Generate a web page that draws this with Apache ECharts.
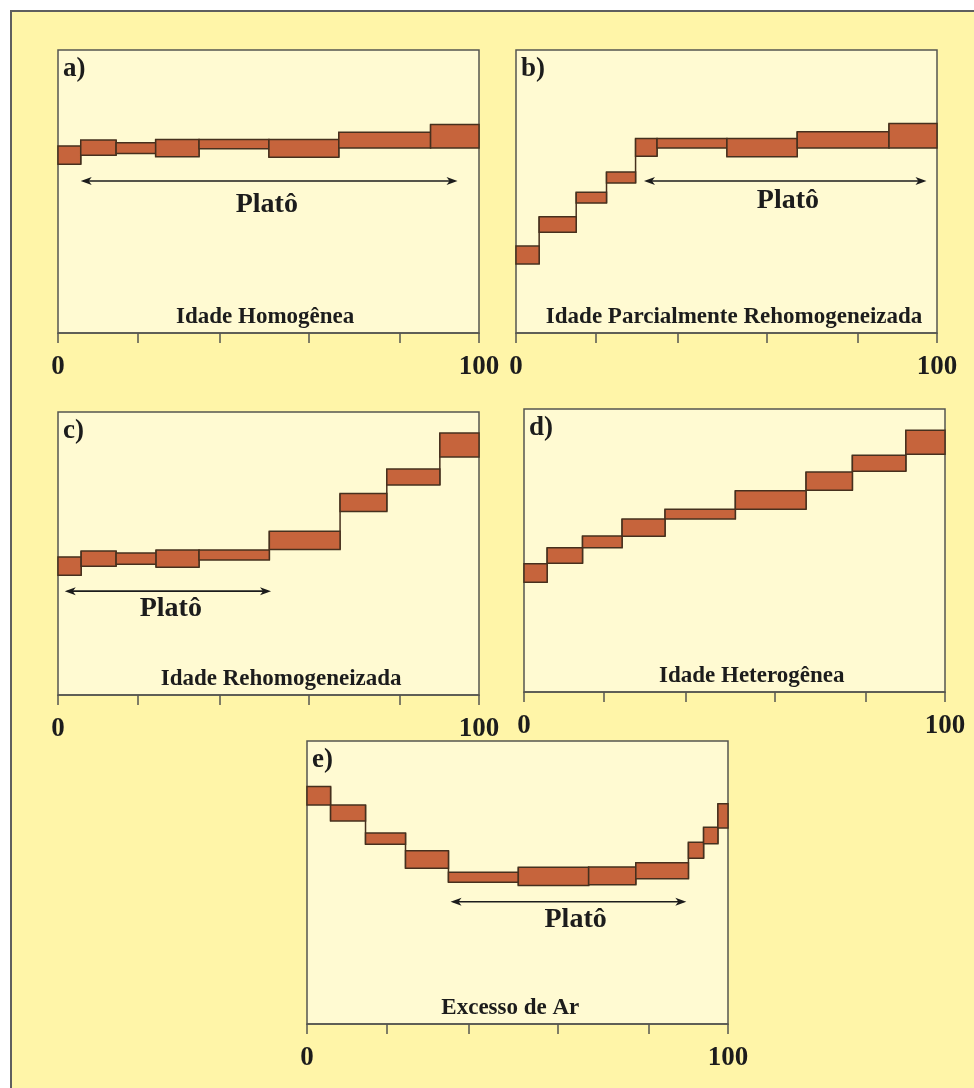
<!DOCTYPE html>
<html>
<head>
<meta charset="utf-8">
<script src="https://cdn.jsdelivr.net/npm/echarts@6/dist/echarts.min.js"></script>
<style>
  html, body { margin: 0; padding: 0; background: #ffffff; }
  #chart { width: 974px; height: 1088px; }
</style>
</head>
<body>
<div id="chart"></div>
<script>
// Age spectra: each step is [from %, to %, lower age, upper age]
// x = cumulative % 39Ar released, y = apparent age (relative scale 0-100)
const stepsA = [
  [0, 5.4, 59.6, 66.1], [5.4, 13.8, 62.8, 68.2], [13.8, 23.2, 63.4, 67.2],
  [23.2, 33.5, 62.3, 68.4], [33.5, 50.1, 65.1, 68.4], [50.1, 66.7, 62.1, 68.4],
  [66.7, 88.5, 65.4, 70.9], [88.5, 100, 65.4, 73.7]
];
const stepsB = [
  [0, 5.5, 24.4, 30.7], [5.5, 14.3, 35.6, 41.1], [14.3, 21.5, 45.9, 49.7],
  [21.5, 28.4, 53.0, 56.9], [28.4, 33.5, 62.5, 68.7], [33.5, 50.1, 65.4, 68.7],
  [50.1, 66.8, 62.3, 68.7], [66.8, 88.6, 65.4, 71.1], [88.6, 100, 65.4, 74.0]
];
const stepsC = [
  [0, 5.5, 42.3, 48.8], [5.5, 13.8, 45.5, 50.9], [13.8, 23.3, 46.2, 50.2],
  [23.3, 33.5, 45.1, 51.2], [33.5, 50.2, 47.7, 51.2], [50.2, 67.0, 51.4, 57.9],
  [67.0, 78.1, 64.8, 71.2], [78.1, 90.7, 74.2, 79.9], [90.7, 100, 84.1, 92.6]
];
const stepsD = [
  [0, 5.5, 38.8, 45.3], [5.5, 13.9, 45.5, 51.0], [13.9, 23.3, 51.0, 55.1],
  [23.3, 33.5, 55.0, 61.1], [33.5, 50.2, 61.1, 64.6], [50.2, 67.0, 64.6, 71.1],
  [67.0, 78.0, 71.3, 77.7], [78.0, 90.7, 78.0, 83.7], [90.7, 100, 84.0, 92.5]
];
const stepsE = [
  [0, 5.6, 77.4, 83.9], [5.6, 13.9, 71.7, 77.4], [13.9, 23.4, 63.5, 67.5],
  [23.4, 33.6, 55.0, 61.2], [33.6, 50.2, 50.1, 53.6], [50.2, 66.9, 48.9, 55.4],
  [66.9, 78.1, 49.2, 55.5], [78.1, 90.6, 51.3, 57.0], [90.6, 94.2, 58.6, 64.2],
  [94.2, 97.6, 63.7, 69.5], [97.6, 100, 69.3, 77.8]
];

// Plateau ranges: [from %, to %, age level of the arrow]
const plateauA = [5.4, 94.9, 53.7];
const plateauB = [30.4, 97.5, 53.7];
const plateauC = [1.6, 50.6, 36.7];
const plateauE = [34.1, 90.1, 43.2];

// Axis ticks and labels
const tickValues = [0, 19, 38.5, 59.6, 81.2, 100];
const tickLabelValues = [0, 100];

const panelLetters = ['a)', 'b)', 'c)', 'd)', 'e)'];
const panelTitles = [
  'Idade Homogênea',
  'Idade Parcialmente Rehomogeneizada',
  'Idade Rehomogeneizada',
  'Idade Heterogênea',
  'Excesso de Ar'
];
const plateauText = 'Platô';

// Colours and type
const BG = '#FFF5A8';
const PLOT_BG = '#FFFAD2';
const FRAME = '#5f5f5f';
const AXIS = '#555550';
const INK = '#1c1c1c';
const STEP_FILL = '#C6643C';
const STEP_LINE = '#46301E';
const SERIF = '"Liberation Serif", "DejaVu Serif", serif';

// Layout of each panel (grid box, title anchor, plateau text anchor)
const layout = [
  { left: 58,  top: 50,  steps: stepsA, plateau: plateauA, titleX: 49.2, platoAt: [49.6, 45.2] },
  { left: 516, top: 50,  steps: stepsB, plateau: plateauB, titleX: 51.8, platoAt: [64.6, 46.7] },
  { left: 58,  top: 412, steps: stepsC, plateau: plateauC, titleX: 53.0, platoAt: [26.8, 30.5] },
  { left: 524, top: 409, steps: stepsD, plateau: null,     titleX: 54.1, platoAt: null },
  { left: 307, top: 741, steps: stepsE, plateau: plateauE, titleX: 48.3, platoAt: [63.8, 37.0] }
];
const GRID_W = 421;
const GRID_H = 283;

// Vertical risers joining consecutive steps: [x, low, high]
function risers(steps) {
  const out = [];
  for (let i = 1; i < steps.length; i++) {
    const a = steps[i - 1], b = steps[i];
    out.push([b[0], Math.min(a[2], b[2]), Math.max(a[3], b[3])]);
  }
  return out;
}

function renderStep(params, api) {
  const p0 = api.coord([api.value(0), api.value(3)]);
  const p1 = api.coord([api.value(1), api.value(2)]);
  return {
    type: 'rect',
    shape: { x: p0[0], y: p0[1], width: p1[0] - p0[0], height: p1[1] - p0[1] },
    style: { fill: STEP_FILL, stroke: STEP_LINE, lineWidth: 1.5 }
  };
}

function renderRiser(params, api) {
  const lo = api.coord([api.value(0), api.value(1)]);
  const hi = api.coord([api.value(0), api.value(2)]);
  return {
    type: 'line',
    shape: { x1: lo[0], y1: lo[1], x2: hi[0], y2: hi[1] },
    style: { stroke: STEP_LINE, lineWidth: 1.5 }
  };
}

function renderArrow(params, api) {
  const a = api.coord([api.value(0), api.value(2)]);
  const b = api.coord([api.value(1), api.value(2)]);
  const y = a[1];
  const L = 11, W = 4, N = 3;
  return {
    type: 'group',
    children: [
      { type: 'line', shape: { x1: a[0] + N, y1: y, x2: b[0] - N, y2: y },
        style: { stroke: INK, lineWidth: 1.6 } },
      { type: 'polygon', shape: { points: [[a[0], y], [a[0] + L, y - W], [a[0] + L - N, y], [a[0] + L, y + W]] },
        style: { fill: INK } },
      { type: 'polygon', shape: { points: [[b[0], y], [b[0] - L, y - W], [b[0] - L + N, y], [b[0] - L, y + W]] },
        style: { fill: INK } }
    ]
  };
}

const grids = [], xAxes = [], yAxes = [], series = [];

layout.forEach((p, i) => {
  grids.push({
    left: p.left, top: p.top, width: GRID_W, height: GRID_H,
    show: true, backgroundColor: PLOT_BG, borderColor: AXIS, borderWidth: 1.5
  });
  xAxes.push({
    gridIndex: i, type: 'value', min: 0, max: 100,
    axisLine: { show: true, lineStyle: { color: AXIS, width: 1.5 } },
    axisTick: { show: true, length: 10, customValues: tickValues, lineStyle: { color: AXIS, width: 1.5 } },
    axisLabel: {
      customValues: tickLabelValues, margin: 21,
      fontFamily: SERIF, fontWeight: 'bold', fontSize: 27, color: INK
    },
    splitLine: { show: false }
  });
  yAxes.push({ gridIndex: i, type: 'value', min: 0, max: 100, show: false, splitLine: { show: false } });

  series.push({
    type: 'custom', xAxisIndex: i, yAxisIndex: i,
    renderItem: renderRiser,
    encode: { x: 0, y: [1, 2] },
    data: risers(p.steps), silent: true, z: 2
  });
  series.push({
    type: 'custom', xAxisIndex: i, yAxisIndex: i,
    renderItem: renderStep,
    encode: { x: [0, 1], y: [2, 3] },
    data: p.steps, silent: true, z: 3
  });

  if (p.plateau) {
    series.push({
      type: 'custom', xAxisIndex: i, yAxisIndex: i,
      renderItem: renderArrow,
      encode: { x: [0, 1], y: 2 },
      data: [p.plateau], silent: true, z: 4
    });
  }

  // Text: panel letter, bottom title, plateau label
  const notes = [
    { at: [0, 100], text: panelLetters[i], dx: 5, dy: 19, align: 'left', size: 27 },
    { at: [p.titleX, 0], text: panelTitles[i], dx: 0, dy: -16, align: 'center', size: 23 }
  ];
  if (p.platoAt) {
    notes.push({ at: p.platoAt, text: plateauText, dx: 0, dy: 0, align: 'center', size: 28 });
  }
  series.push({
    type: 'custom', xAxisIndex: i, yAxisIndex: i,
    data: notes.map(n => n.at),
    silent: true, z: 5,
    renderItem: (params, api) => {
      const n = notes[params.dataIndex];
      const c = api.coord([api.value(0), api.value(1)]);
      return {
        type: 'text',
        x: c[0] + n.dx, y: c[1] + n.dy,
        style: {
          text: n.text, fill: INK, align: n.align, verticalAlign: 'middle',
          font: 'bold ' + n.size + 'px ' + SERIF
        }
      };
    }
  });
});

const chart = echarts.init(document.getElementById('chart'), null, { renderer: 'canvas' });
chart.setOption({
  animation: false,
  backgroundColor: '#ffffff',
  graphic: [{
    type: 'rect', left: 10, top: 10, z: -10,
    shape: { width: 1000, height: 1120 },
    style: { fill: BG, stroke: FRAME, lineWidth: 2 }
  }],
  grid: grids,
  xAxis: xAxes,
  yAxis: yAxes,
  series: series
});
</script>
</body>
</html>
